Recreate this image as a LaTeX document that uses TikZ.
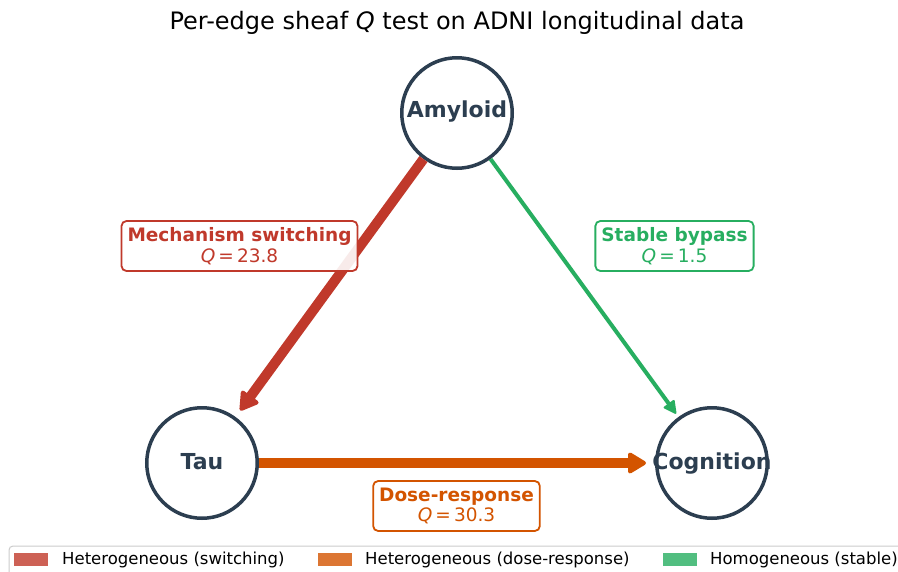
\documentclass[tikz,border=0pt]{standalone}
\usepackage{fontspec}
\setmainfont{DejaVu Sans}
\usetikzlibrary{arrows.meta}
\definecolor{nodec}{HTML}{2C3E50}
\definecolor{redc}{HTML}{C0392B}
\definecolor{orac}{HTML}{D35400}
\definecolor{grec}{HTML}{27AE60}
\definecolor{redl}{HTML}{CD6155}
\definecolor{oral}{HTML}{DC7633}
\definecolor{grel}{HTML}{52BE80}
\tikzset{
  circ/.style={circle, draw=nodec, line width=3.5pt, fill=white, minimum size=110.5pt, inner sep=0pt},
  ntext/.style={text=nodec, font=\fontsize{22}{26}\selectfont\bfseries, inner sep=0pt, anchor=base, yshift=-4.5pt},
  lbox/.style={rounded corners=5pt, line width=1.8pt, fill=white, fill opacity=0.9, text opacity=1,
    align=center, inner xsep=6pt, inner ysep=0pt, minimum height=50pt,
    font=\fontsize{18.5}{21.5}\selectfont},
  thickarrow/.style={line width=10pt, -{Triangle[length=20pt, width=23pt, round, line width=4pt]}},
  thinarrow/.style={line width=4pt, -{Triangle[length=14pt, width=14pt, round, line width=2pt]}},
  legtext/.style={anchor=west, inner sep=0pt, font=\fontsize{16.5}{19}\selectfont},
}
\begin{document}
\begin{tikzpicture}[x=1pt,y=-1pt]
\useasboundingbox (0,0) rectangle (898,571);
\begin{scope}
\clip (0,0) rectangle (898,571);
\fill[white] (0,0) rectangle (898,571);
% title
\node[anchor=base, inner sep=0pt, font=\fontsize{24}{28}\selectfont] (title) at (457,29) {Per-edge sheaf \textit{Q} test on ADNI longitudinal data};
% nodes
\node[circ] (amy) at (457,113) {};
\node[circ] (tau) at (202,463) {};
\node[circ] (cog) at (712,463) {};
% edges
\draw[thickarrow, redc, shorten >=8pt] (amy) -- (tau);
\draw[thinarrow, grec, shorten >=4pt] (amy) -- (cog);
\draw[thickarrow, orac, shorten >=9pt] (tau) -- (cog);
% node labels
\node[ntext] (amyt) at (amy) {Amyloid};
\node[ntext, yshift=-1.5pt] (taut) at (tau) {Tau};
\node[ntext, yshift=-1.5pt] (cogt) at (cog) {Cognition};
% edge labels
\node[lbox, draw=redc, text=redc] (lred) at (239.5,246) {\textbf{Mechanism switching}\\[-1pt]\textit{Q}\,=\,23.8};
\node[lbox, draw=grec, text=grec] (lgre) at (674.5,246) {\textbf{Stable bypass}\\[-1pt]\textit{Q}\,=\,1.5};
\node[lbox, draw=orac, text=orac] (lora) at (456.5,506) {\textbf{Dose-response}\\[-1pt]\textit{Q}\,=\,30.3};
% legend
\draw[draw=black!20, line width=1pt, fill=white, rounded corners=4pt] (9,546) rectangle (920,590);
\fill[redl] (14,553) rectangle (48,566);
\node[legtext] (lg1) at (62,559.5) {Heterogeneous (switching)};
\fill[oral] (318,553) rectangle (352,566);
\node[legtext] (lg2) at (365,559.5) {Heterogeneous (dose-response)};
\fill[grel] (663,553) rectangle (697,566);
\node[legtext] (lg3) at (710,559.5) {Homogeneous (stable)};
\end{scope}
\end{tikzpicture}
\end{document}
